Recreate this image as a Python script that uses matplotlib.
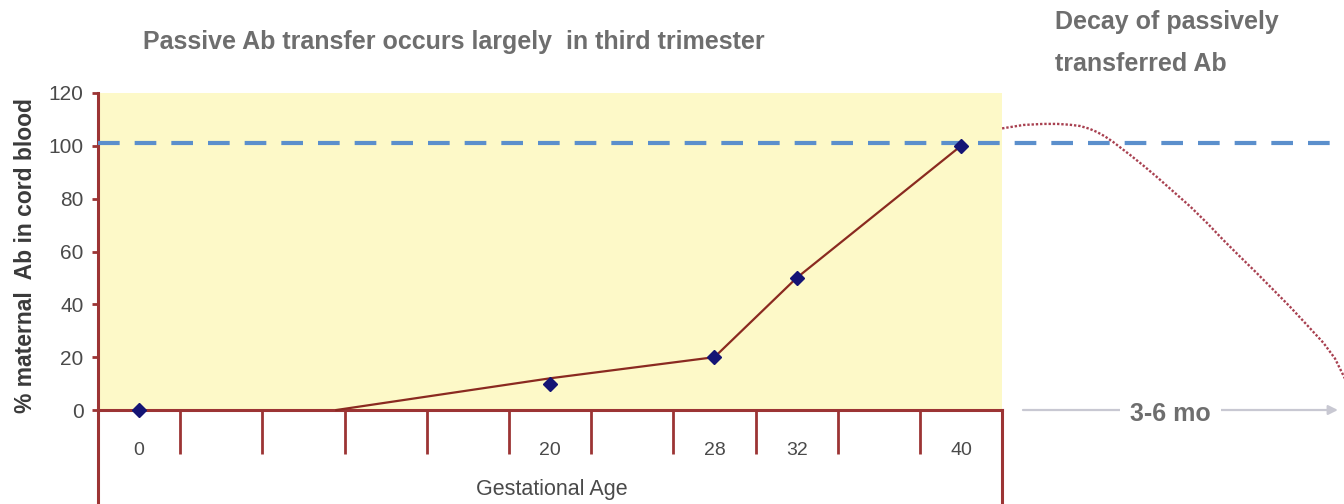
import matplotlib.pyplot as plt
from matplotlib.lines import Line2D

plt.rcParams["font.family"] = ["Liberation Sans", "DejaVu Sans"]

# gestational age categories along the x axis (one slot each)
age_labels = ["0", "", "", "", "", "20", "", "28", "32", "", "40"]

# measured % maternal antibody in cord blood
point_pos = [0, 5, 7, 8, 10]
point_vals = [0, 10, 20, 50, 100]

# fitted transfer line
trend_pos = [2.4, 5, 7, 8, 10]
trend_vals = [0, 12, 20, 50, 100]

# decay of passively transferred antibody after birth
decay_pos = [10.5, 10.76, 11.0, 11.17, 11.32, 11.45, 11.56, 11.65, 11.75, 11.85, 11.95, 12.06,
             12.22, 12.38, 12.58, 12.79, 13.0, 13.19, 13.4, 13.6, 13.8, 14.0, 14.2, 14.41, 14.55, 14.66, 14.8]
decay_vals = [106.6, 107.9, 108.3, 108.3, 108.0, 107.5, 106.5, 105.3, 103.6, 101.5, 99.1, 96.5,
              92.5, 88.3, 82.8, 77.0, 70.6, 64.4, 57.9, 51.8, 45.5, 39.2, 32.5, 25.4, 19.5, 12.6, 4.0]

maternal_level = 101

AXIS_RED = "#9c3434"
LINE_RED = "#8a2a20"
GREY_TEXT = "#6e6e6e"
TICK_TEXT = "#4a4a4a"

fig = plt.figure(figsize=(13.44, 5.04), dpi=100)
ax = fig.add_axes([98 / 1344, 0, 1 - 98 / 1344, 1 - 93 / 504])
ax.set_facecolor("white")

n_cat = len(age_labels)
ymin = -35.58
ax.set_xlim(-0.5, 14.66)
ax.set_ylim(ymin, 120)

# yellow plot area for the pregnancy period
ax.fill_between([-0.5, n_cat - 0.5], 0, 120, color="#fdf9c8", lw=0, zorder=0)

for side in ("top", "right"):
    ax.spines[side].set_visible(False)
ax.spines["left"].set_color(AXIS_RED)
ax.spines["left"].set_linewidth(2.2)
ax.spines["bottom"].set_position(("data", 0))
ax.spines["bottom"].set_bounds(-0.5, n_cat - 0.5)
ax.spines["bottom"].set_color(AXIS_RED)
ax.spines["bottom"].set_linewidth(2.2)

# right border of the category box below the axis
ax.add_line(Line2D([n_cat - 0.5, n_cat - 0.5], [ymin, 0], color=AXIS_RED, lw=2.2, clip_on=False))

ax.set_yticks(range(0, 121, 20))
ax.tick_params(axis="y", direction="out", length=4.5, width=2, color=AXIS_RED,
               labelsize=15, labelcolor=TICK_TEXT, pad=6)

ax.set_xticks(range(n_cat))
ax.set_xticklabels(age_labels)
ax.set_xticks([i + 0.5 for i in range(n_cat - 1)], minor=True)
ax.tick_params(axis="x", which="major", length=0, labelsize=14, labelcolor=TICK_TEXT, pad=23)
ax.tick_params(axis="x", which="minor", direction="out", length=32, width=2, color=AXIS_RED)

ax.set_xlabel("Gestational Age", fontsize=15.5, color=TICK_TEXT, va="center")
ax.xaxis.set_label_coords((552 - 98) / 1246, (504 - 490) / 411)
ax.set_ylabel("% maternal  Ab in cord blood", fontsize=16.5, fontweight="bold", color="#3a3a3a", va="center")
ax.yaxis.set_label_coords((26 - 98) / 1246, (504 - 256) / 411)

# maternal reference level
ax.axhline(maternal_level, color="#5b8fcc", lw=3, dashes=(5.2, 3.6), zorder=3)

ax.plot(trend_pos, trend_vals, color=LINE_RED, lw=1.6, zorder=4)
ax.plot(point_pos, point_vals, ls="none", marker="D", markersize=7, color="#141475", zorder=5)

ax.plot(decay_pos, decay_vals, color="#a84050", lw=1.7, ls=(0, (1, 0.8)), zorder=4, clip_on=False)

# 3-6 month arrow along the baseline
ax.annotate("", xy=(14.62, 0), xytext=(10.72, 0),
            arrowprops=dict(arrowstyle="-|>", color="#c8c8d2", lw=1.6, mutation_scale=14),
            annotation_clip=False)
ax.text(12.55, -1.5, "3-6 mo", ha="center", va="center", fontsize=18, fontweight="bold",
        color=GREY_TEXT, bbox=dict(facecolor="white", edgecolor="none", pad=7))

fig.text(143 / 1344, 1 - 42 / 504, "Passive Ab transfer occurs largely  in third trimester",
         ha="left", va="center", fontsize=18, fontweight="bold", color=GREY_TEXT)
fig.text(1055 / 1344, 1 - 43 / 504, "Decay of passively\ntransferred Ab",
         ha="left", va="center", fontsize=18, fontweight="bold", color=GREY_TEXT, linespacing=1.95)

fig.savefig("out.png", dpi=100)
